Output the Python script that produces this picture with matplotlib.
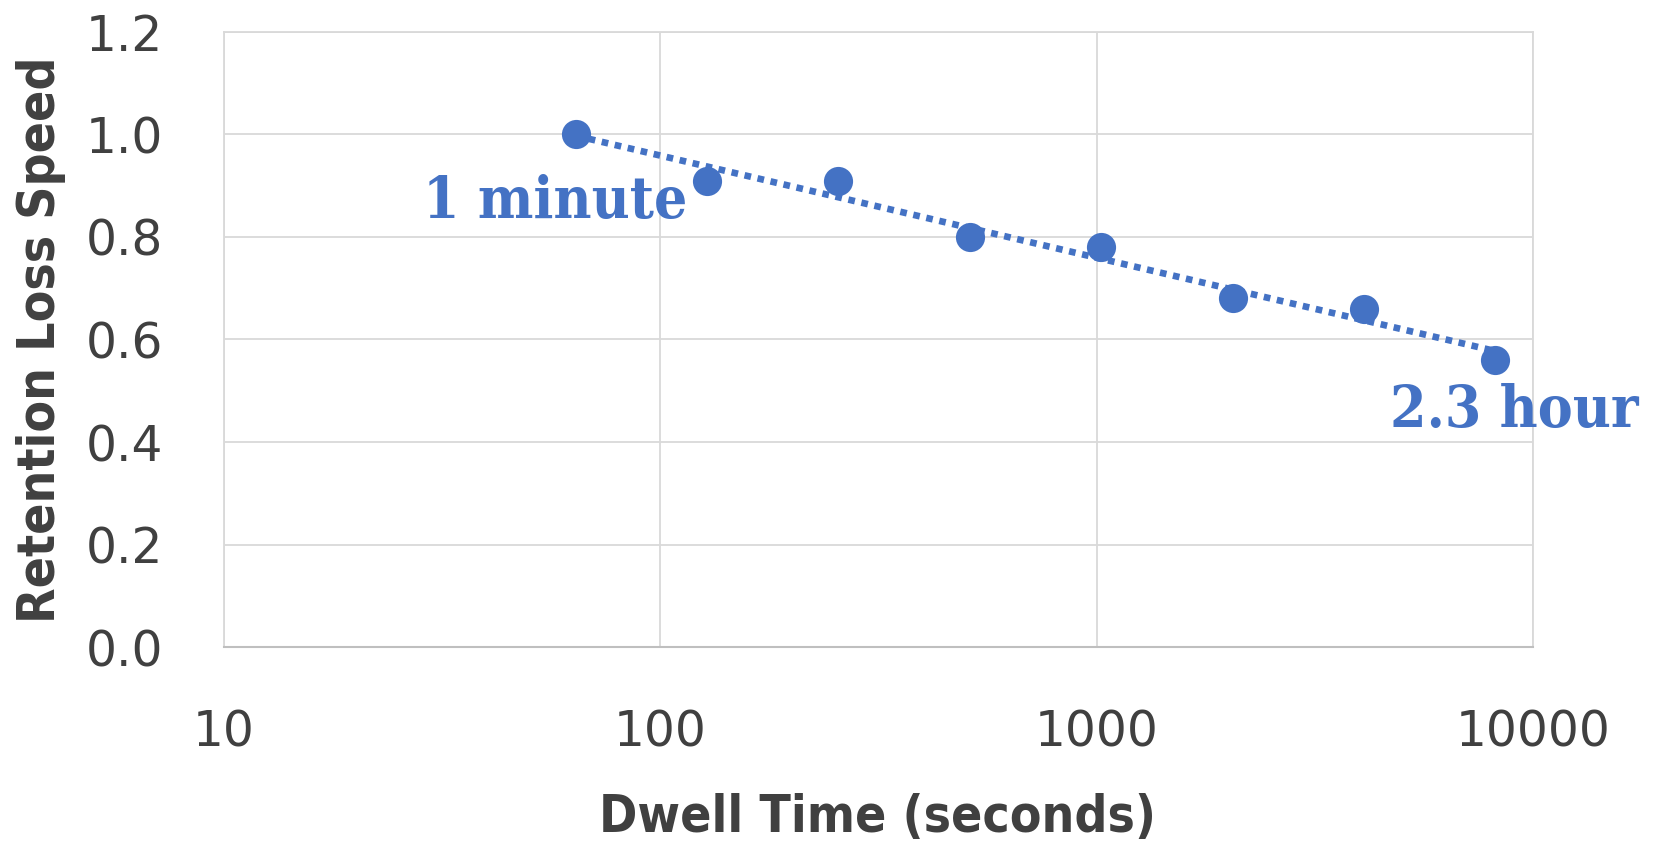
import numpy as np
import matplotlib
matplotlib.use("Agg")
import matplotlib.pyplot as plt

dwell_time = [64, 128, 256, 512, 1024, 2048, 4096, 8192]
loss_speed = [1.00, 0.91, 0.91, 0.80, 0.78, 0.68, 0.66, 0.56]
x_ticks = [10, 100, 1000, 10000]
x_tick_labels = ["10", "100", "1000", "10000"]
y_ticks = [0.0, 0.2, 0.4, 0.6, 0.8, 1.0, 1.2]
y_tick_labels = ["0.0", "0.2", "0.4", "0.6", "0.8", "1.0", "1.2"]
labels = ["1 minute", "2.3 hour"]

BLUE = "#4472C4"
GRID = "#D9D9D9"
TXT = "#404040"

fig = plt.figure(figsize=(16.53, 8.46), dpi=100)
ax = fig.add_axes([0.1355, 0.2352, 0.7919, 0.7270])

# logarithmic trendline (fit to the data)
lx = np.log(np.array(dwell_time, dtype=float))
b, a = np.polyfit(lx, np.array(loss_speed), 1)
tx = np.geomspace(dwell_time[0], dwell_time[-1], 200)
ax.plot(tx, a + b * np.log(tx), color=BLUE, lw=4.8, linestyle=(0, (1, 1)),
        dash_capstyle="butt", zorder=3)

ax.plot(dwell_time, loss_speed, "o", color=BLUE, markersize=21, zorder=4,
        markeredgewidth=0)

ax.set_xscale("log")
ax.set_xlim(10, 10000)
ax.set_ylim(0, 1.2)
ax.set_xticks(x_ticks)
ax.set_xticklabels(x_tick_labels)
ax.xaxis.set_minor_locator(matplotlib.ticker.NullLocator())
ax.set_yticks(y_ticks)
ax.set_yticklabels(y_tick_labels)
ax.tick_params(axis="both", length=0, labelsize=35, colors=TXT)
ax.tick_params(axis="x", pad=44)
ax.tick_params(axis="y", pad=44)
ax.grid(True, color=GRID, lw=1.3)
ax.set_axisbelow(True)
for s in ["top", "right", "left"]:
    ax.spines[s].set_color(GRID)
    ax.spines[s].set_linewidth(1.3)
ax.spines["bottom"].set_color("#BFBFBF")
ax.spines["bottom"].set_linewidth(1.5)

fig.text(0.025, 0.5988, "Retention Loss Speed", rotation=90, ha="center", va="center",
         fontsize=37, fontweight="bold", color=TXT,
         fontfamily="DejaVu Sans", fontstretch="condensed")
fig.text(0.531, 0.033, "Dwell Time (seconds)", ha="center", va="center",
         fontsize=37, fontweight="bold", color=TXT,
         fontfamily="DejaVu Sans", fontstretch="condensed")

ax.annotate(labels[0], xy=(dwell_time[0], loss_speed[0]), xytext=(-14.5, -60),
            textcoords="offset points", ha="center", va="baseline",
            fontsize=42, fontweight="bold", color=BLUE,
            fontfamily="DejaVu Serif", fontstretch="condensed", annotation_clip=False)
ax.annotate(labels[1], xy=(dwell_time[-1], loss_speed[-1]), xytext=(13.5, -48),
            textcoords="offset points", ha="center", va="baseline",
            fontsize=42, fontweight="bold", color=BLUE,
            fontfamily="DejaVu Serif", fontstretch="condensed", annotation_clip=False)

fig.savefig("out.png", dpi=100)
